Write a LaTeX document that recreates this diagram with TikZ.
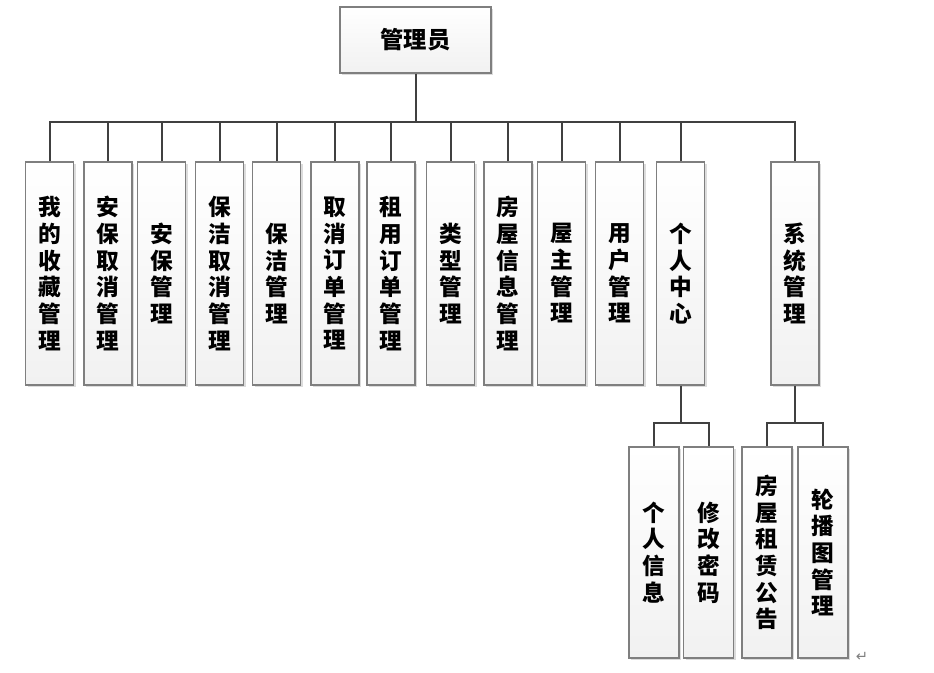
\documentclass[tikz,border=0pt]{standalone}
\usepackage{fontspec}
\newfontfamily\cjk{Noto Sans CJK SC}
\newfontfamily\symfont{DejaVu Sans}
\usetikzlibrary{shadows}
\definecolor{linec}{HTML}{404040}
\definecolor{boxline}{HTML}{7F7F7F}
\tikzset{
  box/.style={draw=boxline, line width=0.8pt, top color=white, bottom color=gray!11,
    drop shadow={shadow xshift=1.8pt, shadow yshift=-1.8pt, fill=gray!60, opacity=0.45},
    inner sep=0pt, align=center,
    font=\cjk\bfseries\fontsize{17}{20}\selectfont},
  lone/.style={box, minimum width=36pt, minimum height=167.25pt},
  ltwo/.style={box, minimum width=37.5pt, minimum height=158.25pt},
  conn/.style={draw=linec, line width=1.5pt}
}
\begin{document}
\begin{tikzpicture}[x=0.75pt,y=-0.75pt]
\useasboundingbox (0,0) rectangle (934,673);
\fill[white] (0,0) rectangle (934,673);
\node[box, minimum width=113.25pt, minimum height=49.5pt, font=\cjk\bfseries\fontsize{17.5}{20}\selectfont] (root) at (415.5,40) {管理员};
\node[lone] (b1) at (49.5,273.5) {我\\的\\收\\藏\\管\\理};
\node[lone] (b2) at (108,273.5) {安\\保\\取\\消\\管\\理};
\node[lone] (b3) at (161.5,273.5) {安\\保\\管\\理};
\node[lone] (b4) at (219.5,273.5) {保\\洁\\取\\消\\管\\理};
\node[lone] (b5) at (276.5,273.5) {保\\洁\\管\\理};
\node[lone] (b6) at (335,273.5) {取\\消\\订\\单\\管\\理};
\node[lone] (b7) at (391,273.5) {租\\用\\订\\单\\管\\理};
\node[lone] (b8) at (450.5,273.5) {类\\型\\管\\理};
\node[lone] (b9) at (508,273.5) {房\\屋\\信\\息\\管\\理};
\node[lone] (b10) at (561.5,273.5) {屋\\主\\管\\理};
\node[lone] (b11) at (619.5,273.5) {用\\户\\管\\理};
\node[lone] (b12) at (680.5,273.5) {个\\人\\中\\心};
\node[lone] (b13) at (795,273.5) {系\\统\\管\\理};
\node[ltwo] (c1) at (654,552.5) {个\\人\\信\\息};
\node[ltwo] (c2) at (708.5,552.5) {修\\改\\密\\码};
\node[ltwo] (c3) at (767,552.5) {房\\屋\\租\\赁\\公\\告};
\node[ltwo] (c4) at (823,552.5) {轮\\播\\图\\管\\理};
\coordinate (bus) at (0,122);
\coordinate (sub) at (0,423);
\draw[conn] (root.south) -- (root.south |- bus);
\draw[conn] (b1.north) |- (b13.north |- bus) -- (b13.north);
\foreach \n in {b2,b3,b4,b5,b6,b7,b8,b9,b10,b11,b12}
  \draw[conn] (\n.north) -- (\n.north |- bus);
\draw[conn] (b12.south) -- (b12.south |- sub);
\draw[conn] (c1.north) |- (c2.north |- sub) -- (c2.north);
\draw[conn] (b13.south) -- (b13.south |- sub);
\draw[conn] (c3.north) |- (c4.north |- sub) -- (c4.north);
\node[text=gray, font=\symfont\fontsize{11}{12}\selectfont, inner sep=0pt] (pm) at (862,657) {↵};
\end{tikzpicture}
\end{document}
